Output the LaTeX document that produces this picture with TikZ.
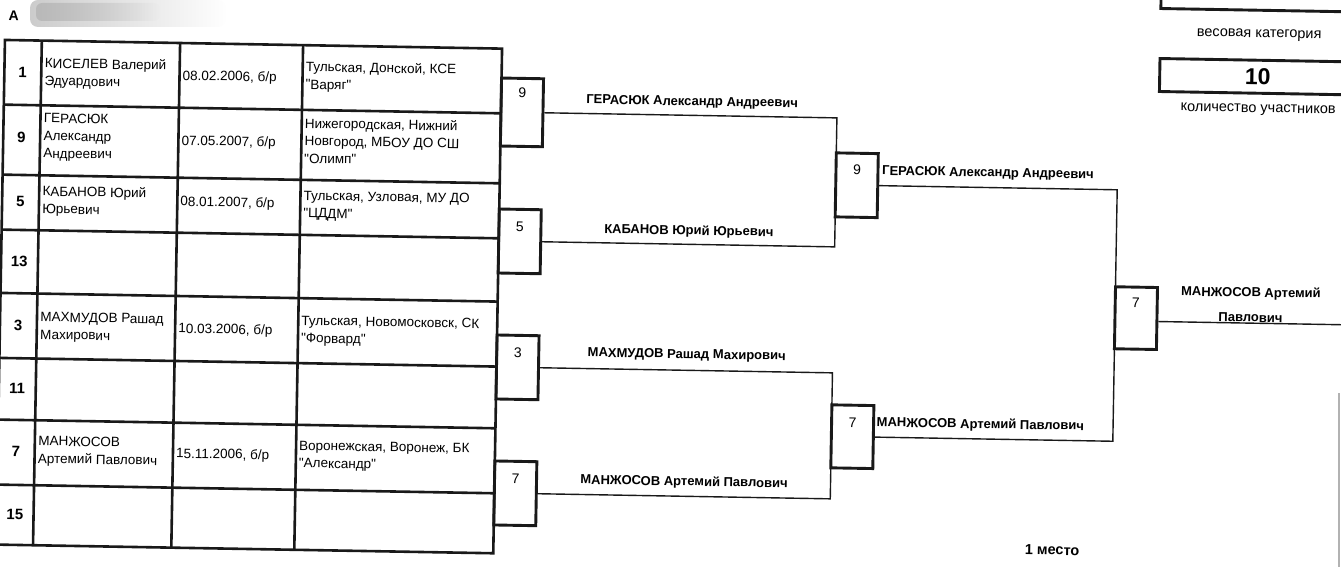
\documentclass[tikz,border=0pt]{standalone}
\usepackage{fontspec}
\setmainfont{Liberation Sans}[Ligatures=TeXOff]
\usetikzlibrary{fadings}
\newcommand\myfs[2]{\fontsize{#1}{#2}\selectfont}
\begin{document}
\begin{tikzpicture}[x=1pt,y=-1pt,
  grid/.style={line width=2.6pt, draw=black!90},
  rbox/.style={draw=black!90, line width=2.9pt, minimum width=42pt, minimum height=64pt, inner sep=0pt},
  conn/.style={line width=1.4pt, draw=black!90},
  cell/.style={anchor=west, align=left, inner sep=0pt, font=\myfs{13.5}{17.5}},
  num/.style={font=\bfseries\myfs{15}{18}, inner sep=0pt},
  bnum/.style={font=\myfs{14}{16}, inner sep=0pt},
  wname/.style={font=\bfseries\myfs{13}{16}, inner sep=0pt},
  lbl/.style={font=\myfs{14.5}{17}, inner sep=0pt},
]
\path[use as bounding box, clip] (0,0) rectangle (1341,567);
\fill[white] (0,0) rectangle (1341,567);
% scanned logo smudge and page edge
\fill[gray!40, path fading=east, rounded corners=8pt] (30,0) rectangle (226,27);
\fill[gray!55, path fading=east, rounded corners=6pt] (36,3) rectangle (160,21);
\draw[gray!60, line width=1.5pt] (1339,393) -- (1339,567);

\begin{scope}[rotate around={-1:(670,283)}, transform shape]
\node[font=\bfseries\myfs{14}{16}, inner sep=0pt] (lettera) at (9.3,27.4) {A};

% table grid
\draw[grid] (0.8,51.6) rectangle (498,556.3);
\foreach \yy in {116.3,186.3,241.3,304.6,369.6,431.3,496.3}
  \draw[grid] (0.8,\yy) -- (498,\yy);
\foreach \xx in {37.7,176,299}
  \draw[grid] (\xx,51.6) -- (\xx,556.3);

% numbers column
\node[num] (n1) at (19,84) {1};
\node[num] (n9) at (19,149) {9};
\node[num] (n5) at (19,213) {5};
\node[num] (n13) at (19,273) {13};
\node[num] (n3) at (19,337) {3};
\node[num] (n11) at (19,400) {11};
\node[num] (n7) at (19,463) {7};
\node[num] (n15) at (19,526) {15};

% names
\node[cell] (p1) at (41,84) {КИСЕЛЕВ Валерий\\Эдуардович};
\node[cell] (p9) at (41,148) {ГЕРАСЮК\\Александр\\Андреевич};
\node[cell] (p5) at (41,212) {КАБАНОВ Юрий\\Юрьевич};
\node[cell] (p3) at (41,338) {МАХМУДОВ Рашад\\Махирович};
\node[cell] (p7) at (41,462) {МАНЖОСОВ\\Артемий Павлович};
% dates
\node[cell] (d1) at (179,85) {08.02.2006, б/р};
\node[cell] (d9) at (179,150) {07.05.2007, б/р};
\node[cell] (d5) at (179,211) {08.01.2007, б/р};
\node[cell] (d3) at (179,338) {10.03.2006, б/р};
\node[cell] (d7) at (179,463) {15.11.2006, б/р};
% clubs
\node[cell] (c1t) at (302,83) {Тульская, Донской, КСЕ\\"Варяг"};
\node[cell] (c9t) at (302,147) {Нижегородская, Нижний\\Новгород, МБОУ ДО СШ\\"Олимп"};
\node[cell] (c5t) at (302,212) {Тульская, Узловая, МУ ДО\\"ЦДДМ"};
\node[cell] (c3t) at (302,337) {Тульская, Новомосковск, СК\\"Форвард"};
\node[cell] (c7t) at (302,462) {Воронежская, Воронеж, БК\\"Александр"};

% round 1 boxes
\node[rbox, minimum height=68pt] (a1) at (519,115) {};
\node[rbox] (a2) at (519,244) {};
\node[rbox] (a3) at (519,370) {};
\node[rbox] (a4) at (519,496) {};
\node[bnum] (a1n) at (519,95) {9};
\node[bnum] (a2n) at (519,229) {5};
\node[bnum] (a3n) at (519,355) {3};
\node[bnum] (a4n) at (519,481) {7};

% round 2 boxes
\node[rbox] (b1) at (855,182) {};
\node[rbox, minimum height=63pt] (b2) at (855,433.5) {};
\node[bnum] (b1n) at (855,167) {9};
\node[bnum] (b2n) at (855,420) {7};

% final box
\node[rbox, minimum height=62pt] (fb) at (1136.5,310) {};
\node[bnum] (fbn) at (1136,295) {7};

% connectors
\coordinate (k1) at (834,115);
\coordinate (k2) at (834,244);
\coordinate (k3) at (834,370);
\coordinate (k4) at (834,496);
\coordinate (m1) at (1115.5,182);
\coordinate (m2) at (1115.5,433.5);
\coordinate (fin) at (1370,313);
\draw[conn] (a1.east) -- (k1) -- (k2) -- (a2.east);
\draw[conn] (a3.east) -- (k3) -- (k4) -- (a4.east);
\draw[conn] (b1.east) -- (m1) -- (m2) -- (b2.east);
\draw[conn] ([yshift=-3pt]fb.east) -- (fin);

% winner names
\node[wname] (w1) at (689,102) {ГЕРАСЮК Александр Андреевич};
\node[wname] (w2) at (688,231) {КАБАНОВ Юрий Юрьевич};
\node[wname] (w3) at (688,355) {МАХМУДОВ Рашад Махирович};
\node[wname] (w4) at (687.5,482) {МАНЖОСОВ Артемий Павлович};
\node[wname, anchor=west] (v1) at (880,168) {ГЕРАСЮК Александр Андреевич};
\node[wname, anchor=west] (v2) at (879,419.5) {МАНЖОСОВ Артемий Павлович};
\node[wname, align=center, font=\bfseries\myfs{13}{25}] (champ) at (1251,294.5) {МАНЖОСОВ Артемий\\Павлович};

% right info
\node[rbox, minimum width=196pt, minimum height=40pt] (wt) at (1254,-20) {};
\node[lbl] (wtl) at (1254.7,24.7) {весовая категория};
\node[rbox, minimum width=196pt, minimum height=33pt, font=\bfseries\myfs{23}{26}] (cnt) at (1254,66.5) {10};
\node[lbl] (cntl) at (1255,99.7) {количество участников};
\node[font=\bfseries\myfs{14.5}{17}, inner sep=0pt] (place) at (1056.7,543.3) {1 место};
\end{scope}
\end{tikzpicture}
\end{document}
